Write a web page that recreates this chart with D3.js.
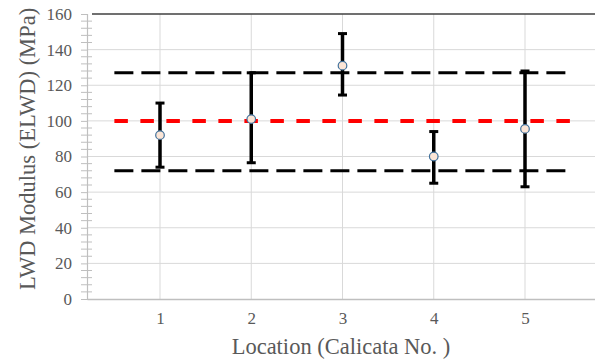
<!DOCTYPE html>
<html>
<head>
<meta charset="utf-8">
<script src="https://cdn.jsdelivr.net/npm/d3@7"></script>
<style>
  body { margin: 0; background: #fff; }
  svg { display: block; }
</style>
</head>
<body>
<div class="center"></div>
<script>
// data
const locations = [1, 2, 3, 4, 5];
const meanValues = [92, 101, 131, 80, 95.5];
const upperValues = [110, 127, 149, 94, 128];
const lowerValues = [74, 76.5, 114.5, 65, 63];
const refMean = 100;
const refUpper = 127;
const refLower = 72;
const yTicks = [0, 20, 40, 60, 80, 100, 120, 140, 160];

const W = 595, H = 359;
const plot = {left: 87, right: 595, top: 14, bottom: 299};

const svg = d3.select(".center").append("svg")
    .attr("width", W)
    .attr("height", H);

// scales
const xScale = d3.scaleLinear()
    .domain([1 - 73 / 91.25, 5 + 70 / 91.25])
    .range([plot.left, plot.right]);
const yScale = d3.scaleLinear()
    .domain([0, 160])
    .range([plot.bottom, plot.top]);

const font = "'Liberation Serif', 'Times New Roman', serif";
const textColor = "#595959";

// horizontal gridlines
svg.append("g")
    .selectAll("line")
    .data(yTicks.filter(d => d > 0 && d < 160))
    .enter().append("line")
    .attr("x1", plot.left)
    .attr("x2", plot.right)
    .attr("y1", d => yScale(d))
    .attr("y2", d => yScale(d))
    .style("stroke", "#d9d9d9")
    .style("stroke-width", 1);

// vertical gridlines
svg.append("g")
    .selectAll("line")
    .data(locations)
    .enter().append("line")
    .attr("x1", d => xScale(d))
    .attr("x2", d => xScale(d))
    .attr("y1", plot.top)
    .attr("y2", plot.bottom)
    .style("stroke", "#d9d9d9")
    .style("stroke-width", 1);

// top border line
svg.append("line")
    .attr("x1", plot.left + 5)
    .attr("x2", plot.right)
    .attr("y1", yScale(160))
    .attr("y2", yScale(160))
    .style("stroke", "#404040")
    .style("stroke-width", 1.5);

// y axis with major ticks
const yAxis = d3.axisLeft(yScale)
    .tickValues(yTicks)
    .tickSize(6)
    .tickPadding(9)
    .tickFormat(d3.format("d"));

const yg = svg.append("g")
    .attr("transform", `translate(${plot.left},0)`)
    .call(yAxis)
    .attr("font-family", font);
yg.select(".domain").style("stroke", "#bfbfbf").style("stroke-width", 1.2);
yg.selectAll(".tick line").style("stroke", "#bfbfbf");
yg.selectAll(".tick text")
    .style("font-family", font)
    .style("font-size", "17px")
    .style("fill", textColor);

// minor ticks every 4
const minor = d3.range(0, 161, 4).filter(d => d % 20 !== 0);
svg.append("g")
    .selectAll("line")
    .data(minor)
    .enter().append("line")
    .attr("x1", plot.left - 6)
    .attr("x2", plot.left + 5)
    .attr("y1", d => yScale(d))
    .attr("y2", d => yScale(d))
    .style("stroke", "#bfbfbf")
    .style("stroke-width", 1);

// x axis
const xAxis = d3.axisBottom(xScale)
    .tickValues(locations)
    .tickSize(0)
    .tickPadding(13)
    .tickFormat(d3.format("d"));
const xg = svg.append("g")
    .attr("transform", `translate(0,${plot.bottom})`)
    .call(xAxis)
    .attr("font-family", font);
xg.select(".domain").style("stroke", "#bfbfbf").style("stroke-width", 1.5);
xg.selectAll(".tick text")
    .style("font-family", font)
    .style("font-size", "17px")
    .style("fill", textColor);

// reference lines
const refs = [
    {v: refUpper, color: "#000", w: 3, dash: "19,8"},
    {v: refLower, color: "#000", w: 3, dash: "19,8"},
    {v: refMean, color: "#ff0000", w: 4, dash: "13.5,12.5"}
];
svg.append("g")
    .selectAll("line")
    .data(refs)
    .enter().append("line")
    .attr("x1", xScale(0.5))
    .attr("x2", xScale(5.5))
    .attr("y1", d => yScale(d.v))
    .attr("y2", d => yScale(d.v))
    .style("stroke", d => d.color)
    .style("stroke-width", d => d.w)
    .style("stroke-dasharray", d => d.dash);

// error bars
const pts = locations.map((c, i) => ({c: c, m: meanValues[i], hi: upperValues[i], lo: lowerValues[i]}));
const eb = svg.append("g");
eb.selectAll("line.bar")
    .data(pts)
    .enter().append("line")
    .attr("class", "bar")
    .attr("x1", d => xScale(d.c))
    .attr("x2", d => xScale(d.c))
    .attr("y1", d => yScale(d.hi))
    .attr("y2", d => yScale(d.lo))
    .style("stroke", "#000")
    .style("stroke-width", 3.5);
["hi", "lo"].forEach(k => {
    eb.selectAll("line.cap-" + k)
        .data(pts)
        .enter().append("line")
        .attr("class", "cap-" + k)
        .attr("x1", d => xScale(d.c) - 4.5)
        .attr("x2", d => xScale(d.c) + 4.5)
        .attr("y1", d => yScale(d[k]))
        .attr("y2", d => yScale(d[k]))
        .style("stroke", "#000")
        .style("stroke-width", 3);
});

// markers
svg.append("g")
    .selectAll("circle")
    .data(pts)
    .enter().append("circle")
    .attr("cx", d => xScale(d.c))
    .attr("cy", d => yScale(d.m))
    .attr("r", 4.3)
    .style("fill", "#fbe5d6")
    .style("stroke", "#41719c")
    .style("stroke-width", 1.2);

// axis titles
svg.append("text")
    .attr("x", 341)
    .attr("y", 354)
    .attr("text-anchor", "middle")
    .style("font-family", font)
    .style("font-size", "22.5px")
    .style("fill", textColor)
    .text("Location (Calicata No. )");

svg.append("text")
    .attr("transform", `translate(35,149) rotate(-90)`)
    .attr("text-anchor", "middle")
    .style("font-family", font)
    .style("font-size", "22.5px")
    .style("fill", textColor)
    .text("LWD Modulus (ELWD) (MPa)");
</script>
</body>
</html>
